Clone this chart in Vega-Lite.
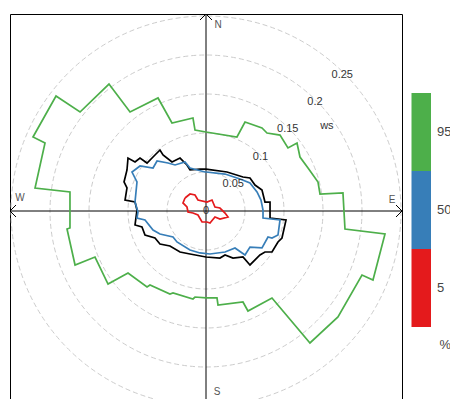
{
  "$schema": "https://vega.github.io/schema/vega-lite/v6.json",
  "width": 392,
  "height": 394,
  "autosize": "none",
  "padding": {"left": 10, "top": 14, "right": 48, "bottom": 0},
  "background": "white",
  "config": {
    "view": {"stroke": "#000000", "strokeWidth": 1},
    "font": "Liberation Sans",
    "text": {"font": "Liberation Sans"}
  },
  "data": {"values": [{"one": 1}]},
  "datasets": {
    "rose": [
      {"p":"95","i":0,"x":0,"y":0.1013},{"p":"95","i":1,"x":0.0397,"y":0.0949},{"p":"95","i":2,"x":0.05,"y":0.1141},{"p":"95","i":3,"x":0.0718,"y":0.1064},{"p":"95","i":4,"x":0.0782,"y":0.1},{"p":"95","i":5,"x":0.0949,"y":0.0974},{"p":"95","i":6,"x":0.1051,"y":0.0808},{"p":"95","i":7,"x":0.1167,"y":0.0872},{"p":"95","i":8,"x":0.1205,"y":0.0692},{"p":"95","i":9,"x":0.1308,"y":0.0551},{"p":"95","i":10,"x":0.1436,"y":0.0372},{"p":"95","i":11,"x":0.1462,"y":0.0218},{"p":"95","i":12,"x":0.1756,"y":0.0231},{"p":"95","i":13,"x":0.1782,"y":-0.0231},{"p":"95","i":14,"x":0.2295,"y":-0.0295},{"p":"95","i":15,"x":0.2141,"y":-0.0885},{"p":"95","i":16,"x":0.2,"y":-0.0821},{"p":"95","i":17,"x":0.1692,"y":-0.1359},{"p":"95","i":18,"x":0.1333,"y":-0.1692},{"p":"95","i":19,"x":0.0846,"y":-0.1115},{"p":"95","i":20,"x":0.0538,"y":-0.1282},{"p":"95","i":21,"x":0.0474,"y":-0.1167},{"p":"95","i":22,"x":0.0154,"y":-0.1205},{"p":"95","i":23,"x":0.0141,"y":-0.1115},{"p":"95","i":24,"x":0,"y":-0.1115},{"p":"95","i":25,"x":-0.0141,"y":-0.1103},{"p":"95","i":26,"x":-0.0167,"y":-0.1128},{"p":"95","i":27,"x":-0.0423,"y":-0.1051},{"p":"95","i":28,"x":-0.0462,"y":-0.1064},{"p":"95","i":29,"x":-0.0718,"y":-0.0949},{"p":"95","i":30,"x":-0.0756,"y":-0.0974},{"p":"95","i":31,"x":-0.1,"y":-0.0795},{"p":"95","i":32,"x":-0.1256,"y":-0.0936},{"p":"95","i":33,"x":-0.1423,"y":-0.059},{"p":"95","i":34,"x":-0.1679,"y":-0.0692},{"p":"95","i":35,"x":-0.1782,"y":-0.0231},{"p":"95","i":36,"x":-0.1744,"y":-0.0218},{"p":"95","i":37,"x":-0.1744,"y":0.0244},{"p":"95","i":38,"x":-0.2192,"y":0.0295},{"p":"95","i":39,"x":-0.2064,"y":0.0872},{"p":"95","i":40,"x":-0.2218,"y":0.0949},{"p":"95","i":41,"x":-0.1923,"y":0.1474},{"p":"95","i":42,"x":-0.1615,"y":0.1269},{"p":"95","i":43,"x":-0.1244,"y":0.1628},{"p":"95","i":44,"x":-0.0974,"y":0.1269},{"p":"95","i":45,"x":-0.0615,"y":0.1449},{"p":"95","i":46,"x":-0.0436,"y":0.1128},{"p":"95","i":47,"x":-0.0167,"y":0.1192},{"p":"95","i":48,"x":-0.0141,"y":0.1038},{"p":"95","i":49,"x":0,"y":0.1013},

      {"p":"mean","i":0,"x":0,"y":0.0538},{"p":"mean","i":1,"x":0.0269,"y":0.05},{"p":"mean","i":2,"x":0.0474,"y":0.0436},{"p":"mean","i":3,"x":0.0564,"y":0.0423},{"p":"mean","i":4,"x":0.0628,"y":0.0333},{"p":"mean","i":5,"x":0.0718,"y":0.0269},{"p":"mean","i":6,"x":0.0756,"y":0.0115},{"p":"mean","i":7,"x":0.0821,"y":0.0115},{"p":"mean","i":8,"x":0.0821,"y":-0.009},{"p":"mean","i":9,"x":0.1026,"y":-0.0115},{"p":"mean","i":10,"x":0.0974,"y":-0.0346},{"p":"mean","i":11,"x":0.0923,"y":-0.0397},{"p":"mean","i":12,"x":0.0846,"y":-0.0526},{"p":"mean","i":13,"x":0.0756,"y":-0.0526},{"p":"mean","i":14,"x":0.0692,"y":-0.0564},{"p":"mean","i":15,"x":0.0564,"y":-0.0692},{"p":"mean","i":16,"x":0.0474,"y":-0.059},{"p":"mean","i":17,"x":0.0346,"y":-0.0603},{"p":"mean","i":18,"x":0.0244,"y":-0.0564},{"p":"mean","i":19,"x":0.0179,"y":-0.0603},{"p":"mean","i":20,"x":0,"y":-0.059},{"p":"mean","i":21,"x":-0.0205,"y":-0.0551},{"p":"mean","i":22,"x":-0.0333,"y":-0.0526},{"p":"mean","i":23,"x":-0.0462,"y":-0.0449},{"p":"mean","i":24,"x":-0.059,"y":-0.0423},{"p":"mean","i":25,"x":-0.0654,"y":-0.0346},{"p":"mean","i":26,"x":-0.0782,"y":-0.0308},{"p":"mean","i":27,"x":-0.0821,"y":-0.0205},{"p":"mean","i":28,"x":-0.091,"y":-0.0179},{"p":"mean","i":29,"x":-0.0885,"y":0.0013},{"p":"mean","i":30,"x":-0.091,"y":0.0115},{"p":"mean","i":31,"x":-0.1038,"y":0.0141},{"p":"mean","i":32,"x":-0.1013,"y":0.0295},{"p":"mean","i":33,"x":-0.1051,"y":0.0372},{"p":"mean","i":34,"x":-0.1013,"y":0.0526},{"p":"mean","i":35,"x":-0.1,"y":0.0679},{"p":"mean","i":36,"x":-0.091,"y":0.0628},{"p":"mean","i":37,"x":-0.0846,"y":0.0679},{"p":"mean","i":38,"x":-0.0756,"y":0.0615},{"p":"mean","i":39,"x":-0.0654,"y":0.0718},{"p":"mean","i":40,"x":-0.059,"y":0.0782},{"p":"mean","i":41,"x":-0.0551,"y":0.0718},{"p":"mean","i":42,"x":-0.0436,"y":0.0628},{"p":"mean","i":43,"x":-0.0333,"y":0.0679},{"p":"mean","i":44,"x":-0.0244,"y":0.059},{"p":"mean","i":45,"x":-0.0205,"y":0.0526},{"p":"mean","i":46,"x":-0.0077,"y":0.0538},{"p":"mean","i":47,"x":0,"y":0.0538},

      {"p":"50","i":0,"x":0,"y":0.05},{"p":"50","i":1,"x":0.0244,"y":0.0474},{"p":"50","i":2,"x":0.0436,"y":0.041},{"p":"50","i":3,"x":0.0564,"y":0.0359},{"p":"50","i":4,"x":0.0654,"y":0.0244},{"p":"50","i":5,"x":0.0705,"y":0.0141},{"p":"50","i":6,"x":0.0731,"y":0.0013},{"p":"50","i":7,"x":0.0731,"y":-0.009},{"p":"50","i":8,"x":0.0949,"y":-0.0115},{"p":"50","i":9,"x":0.0923,"y":-0.0308},{"p":"50","i":10,"x":0.0846,"y":-0.0346},{"p":"50","i":11,"x":0.0795,"y":-0.0333},{"p":"50","i":12,"x":0.0718,"y":-0.0474},{"p":"50","i":13,"x":0.0564,"y":-0.0462},{"p":"50","i":14,"x":0.05,"y":-0.0564},{"p":"50","i":15,"x":0.0372,"y":-0.0474},{"p":"50","i":16,"x":0.0244,"y":-0.0526},{"p":"50","i":17,"x":0.0051,"y":-0.0551},{"p":"50","i":18,"x":-0.0077,"y":-0.0538},{"p":"50","i":19,"x":-0.0205,"y":-0.05},{"p":"50","i":20,"x":-0.0372,"y":-0.0397},{"p":"50","i":21,"x":-0.0423,"y":-0.0333},{"p":"50","i":22,"x":-0.059,"y":-0.0295},{"p":"50","i":23,"x":-0.0679,"y":-0.0244},{"p":"50","i":24,"x":-0.0782,"y":-0.0115},{"p":"50","i":25,"x":-0.0885,"y":-0.009},{"p":"50","i":26,"x":-0.0872,"y":-0.0013},{"p":"50","i":27,"x":-0.091,"y":0.0115},{"p":"50","i":28,"x":-0.0885,"y":0.0372},{"p":"50","i":29,"x":-0.0949,"y":0.05},{"p":"50","i":30,"x":-0.0846,"y":0.0577},{"p":"50","i":31,"x":-0.0679,"y":0.0551},{"p":"50","i":32,"x":-0.0628,"y":0.0641},{"p":"50","i":33,"x":-0.0487,"y":0.0615},{"p":"50","i":34,"x":-0.0397,"y":0.059},{"p":"50","i":35,"x":-0.0269,"y":0.0628},{"p":"50","i":36,"x":-0.0205,"y":0.0551},{"p":"50","i":37,"x":-0.0013,"y":0.05},{"p":"50","i":38,"x":0,"y":0.05},

      {"p":"5","i":0,"x":-0.0269,"y":0.0167},{"p":"5","i":1,"x":-0.0205,"y":0.0218},{"p":"5","i":2,"x":-0.0141,"y":0.0205},{"p":"5","i":3,"x":-0.0103,"y":0.0141},{"p":"5","i":4,"x":0.0013,"y":0.0115},{"p":"5","i":5,"x":0.0077,"y":0.0141},{"p":"5","i":6,"x":0.0115,"y":0.0051},{"p":"5","i":7,"x":0.0179,"y":0.0038},{"p":"5","i":8,"x":0.0244,"y":-0.0026},{"p":"5","i":9,"x":0.0282,"y":-0.0077},{"p":"5","i":10,"x":0.0179,"y":-0.0103},{"p":"5","i":11,"x":0.0115,"y":-0.0077},{"p":"5","i":12,"x":0.0051,"y":-0.0154},{"p":"5","i":13,"x":0.0013,"y":-0.0141},{"p":"5","i":14,"x":-0.0051,"y":-0.0141},{"p":"5","i":15,"x":-0.0103,"y":-0.0051},{"p":"5","i":16,"x":-0.0167,"y":-0.0026},{"p":"5","i":17,"x":-0.0231,"y":-0.0013},{"p":"5","i":18,"x":-0.0244,"y":0.0051},{"p":"5","i":19,"x":-0.0295,"y":0.0103},{"p":"5","i":20,"x":-0.0269,"y":0.0167}
    ],
    "rings": [{"ring":0},{"ring":0.05},{"ring":0.1},{"ring":0.15},{"ring":0.2},{"ring":0.25}],
    "pct": [{"p":"95"},{"p":"50"},{"p":"5"}]
  },
  "resolve": {"scale": {"x": "independent", "y": "independent"}},
  "layer": [
    {
      "data": {"name": "rings"},
      "mark": {"type": "point", "shape": "circle", "filled": false, "stroke": "#cccccc", "strokeWidth": 1, "strokeDash": [5, 3], "opacity": 1},
      "encoding": {
        "x": {"datum": 0, "type": "quantitative", "scale": {"domain": [-0.2513, 0.2513], "nice": false, "zero": false}, "axis": null},
        "y": {"datum": 0, "type": "quantitative", "scale": {"domain": [-0.2526, 0.2526], "nice": false, "zero": false}, "axis": null},
        "size": {"field": "ring", "type": "quantitative", "scale": {"type": "pow", "exponent": 2, "domain": [0, 0.25], "range": [0, 152100]}, "legend": null}
      }
    },
    {
      "mark": {"type": "rule", "stroke": "#000000", "strokeWidth": 1},
      "encoding": {
        "y": {"datum": 0, "type": "quantitative", "scale": {"domain": [-0.2526, 0.2526], "nice": false, "zero": false}, "axis": null}
      }
    },
    {
      "mark": {"type": "rule", "stroke": "#000000", "strokeWidth": 1},
      "encoding": {
        "x": {"datum": 0, "type": "quantitative", "scale": {"domain": [-0.2513, 0.2513], "nice": false, "zero": false}, "axis": null}
      }
    },
    {
      "data": {"name": "rose"},
      "mark": {"type": "line", "strokeWidth": 1.7, "interpolate": "linear"},
      "encoding": {
        "x": {"field": "x", "type": "quantitative", "scale": {"domain": [-0.2513, 0.2513], "nice": false, "zero": false}, "axis": null},
        "y": {"field": "y", "type": "quantitative", "scale": {"domain": [-0.2526, 0.2526], "nice": false, "zero": false}, "axis": null},
        "stroke": {"field": "p", "type": "nominal", "scale": {"domain": ["95", "mean", "50", "5"], "range": ["#4DAF4A", "#000000", "#377EB8", "#E41A1C"]}, "legend": null},
        "order": {"field": "i", "type": "quantitative"}
      }
    },
    {
      "data": {"name": "rings"},
      "mark": {"type": "text", "fontSize": 11, "color": "#333333", "align": "center", "baseline": "middle"},
      "encoding": {
        "x": {"field": "ring", "type": "quantitative", "scale": {"domain": [-0.3597, 0.3597], "nice": false, "zero": false}, "axis": null},
        "y": {"field": "ring", "type": "quantitative", "scale": {"domain": [-0.3615, 0.3615], "nice": false, "zero": false}, "axis": null},
        "text": {"field": "ring", "type": "quantitative"}
      }
    },
    {
      "mark": {"type": "text", "text": "ws", "fontSize": 11, "color": "#333333", "align": "center", "baseline": "middle"},
      "encoding": {
        "x": {"datum": 0.155, "type": "quantitative", "scale": {"domain": [-0.2513, 0.2513], "nice": false, "zero": false}, "axis": null},
        "y": {"datum": 0.109, "type": "quantitative", "scale": {"domain": [-0.2526, 0.2526], "nice": false, "zero": false}, "axis": null}
      }
    },
    {
      "mark": {"type": "text", "text": "N", "fontSize": 10, "color": "#555555", "align": "center", "baseline": "middle"},
      "encoding": {
        "x": {"datum": 0.0154, "type": "quantitative", "scale": {"domain": [-0.2513, 0.2513], "nice": false, "zero": false}, "axis": null},
        "y": {"datum": 0.2385, "type": "quantitative", "scale": {"domain": [-0.2526, 0.2526], "nice": false, "zero": false}, "axis": null}
      }
    },
    {
      "mark": {"type": "text", "text": "E", "fontSize": 10, "color": "#555555", "align": "center", "baseline": "middle"},
      "encoding": {
        "x": {"datum": 0.2385, "type": "quantitative", "scale": {"domain": [-0.2513, 0.2513], "nice": false, "zero": false}, "axis": null},
        "y": {"datum": 0.0141, "type": "quantitative", "scale": {"domain": [-0.2526, 0.2526], "nice": false, "zero": false}, "axis": null}
      }
    },
    {
      "mark": {"type": "text", "text": "W", "fontSize": 10, "color": "#555555", "align": "center", "baseline": "middle"},
      "encoding": {
        "x": {"datum": -0.2385, "type": "quantitative", "scale": {"domain": [-0.2513, 0.2513], "nice": false, "zero": false}, "axis": null},
        "y": {"datum": 0.0167, "type": "quantitative", "scale": {"domain": [-0.2526, 0.2526], "nice": false, "zero": false}, "axis": null}
      }
    },
    {
      "mark": {"type": "text", "text": "S", "fontSize": 10, "color": "#555555", "align": "center", "baseline": "middle"},
      "encoding": {
        "x": {"datum": 0.0141, "type": "quantitative", "scale": {"domain": [-0.2513, 0.2513], "nice": false, "zero": false}, "axis": null},
        "y": {"datum": -0.2315, "type": "quantitative", "scale": {"domain": [-0.2526, 0.2526], "nice": false, "zero": false}, "axis": null}
      }
    },
    {
      "mark": {"type": "point", "shape": "M-1,1L0,0L1,1", "size": 144, "angle": 0, "filled": false, "stroke": "#000000", "strokeWidth": 1, "opacity": 1},
      "encoding": {
        "x": {"datum": 0, "type": "quantitative", "scale": {"domain": [-0.2513, 0.2513], "nice": false, "zero": false}, "axis": null},
        "y": {"datum": 0.2526, "type": "quantitative", "scale": {"domain": [-0.2526, 0.2526], "nice": false, "zero": false}, "axis": null}
      }
    },
    {
      "mark": {"type": "point", "shape": "M-1,1L0,0L1,1", "size": 144, "angle": 90, "filled": false, "stroke": "#000000", "strokeWidth": 1, "opacity": 1},
      "encoding": {
        "x": {"datum": 0.2513, "type": "quantitative", "scale": {"domain": [-0.2513, 0.2513], "nice": false, "zero": false}, "axis": null},
        "y": {"datum": 0, "type": "quantitative", "scale": {"domain": [-0.2526, 0.2526], "nice": false, "zero": false}, "axis": null}
      }
    },
    {
      "mark": {"type": "point", "shape": "M-1,1L0,0L1,1", "size": 144, "angle": 270, "filled": false, "stroke": "#000000", "strokeWidth": 1, "opacity": 1},
      "encoding": {
        "x": {"datum": -0.2513, "type": "quantitative", "scale": {"domain": [-0.2513, 0.2513], "nice": false, "zero": false}, "axis": null},
        "y": {"datum": 0, "type": "quantitative", "scale": {"domain": [-0.2526, 0.2526], "nice": false, "zero": false}, "axis": null}
      }
    },
    {
      "data": {"name": "pct"},
      "mark": {"type": "rect", "strokeWidth": 0},
      "encoding": {
        "x": {"datum": 0, "type": "quantitative", "scale": {"domain": [-0.2513, 0.2513], "nice": false, "zero": false}, "axis": null},
        "x2": {"datum": 0},
        "y": {"datum": 0, "type": "quantitative", "scale": {"domain": [-0.2526, 0.2526], "nice": false, "zero": false}, "axis": null},
        "y2": {"datum": 0},
        "fill": {
          "field": "p", "type": "nominal",
          "scale": {"domain": ["95", "50", "5"], "range": ["#4DAF4A", "#377EB8", "#E41A1C"]},
          "legend": {
            "orient": "none", "legendX": 343, "legendY": 79, "padding": 0, "rowPadding": 0,
            "symbolType": "M0.5,-1H1V1H0.5Z", "symbolSize": 6084, "symbolStrokeWidth": 0, "symbolOpacity": 1,
            "labelOffset": 6, "labelFontSize": 13, "labelColor": "#444444", "labelFont": "Liberation Sans",
            "title": "%", "titleOrient": "bottom", "titleAnchor": "end", "titleFontWeight": "normal",
            "titleFontSize": 13, "titleColor": "#444444", "titleFont": "Liberation Sans", "titlePadding": 12
          }
        }
      }
    }
  ]
}
